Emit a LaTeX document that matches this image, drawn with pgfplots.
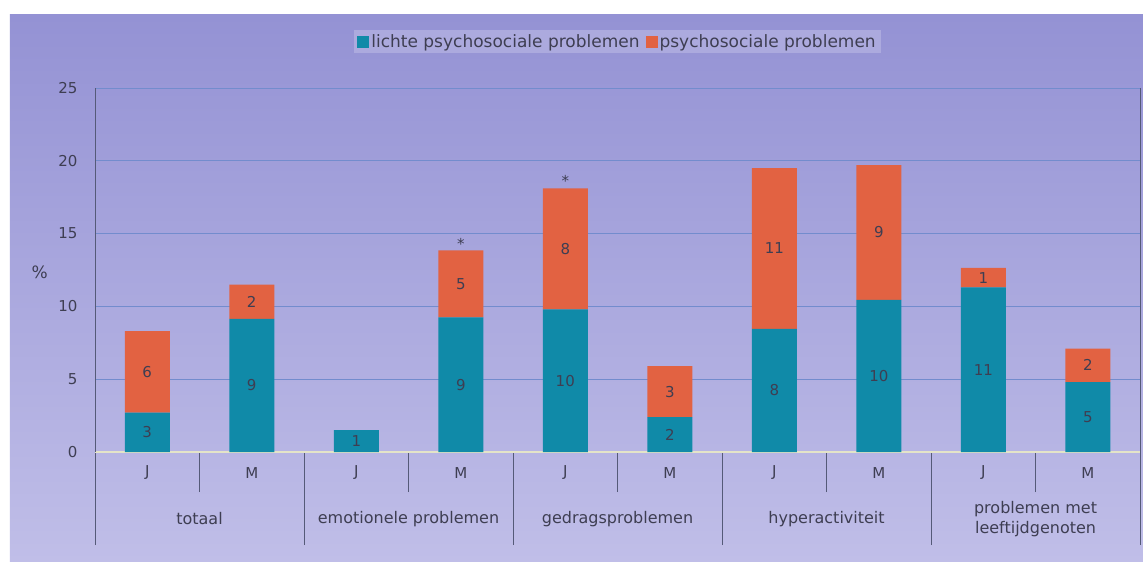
\documentclass[border=0pt]{standalone}
\usepackage{pgfplots}
\usepackage{pgfplotstable}
\pgfplotsset{compat=1.18}
\usepackage{fontspec}
\setmainfont{DejaVu Sans}
\definecolor{bgtop}{RGB}{148,146,212}
\definecolor{bgbot}{RGB}{192,190,232}
\definecolor{barblue}{RGB}{16,138,168}
\definecolor{barred}{RGB}{226,98,66}
\definecolor{txt}{RGB}{62,62,82}
\definecolor{gridc}{RGB}{115,140,205}
\definecolor{divc}{RGB}{85,90,120}
\pgfplotstableread{
x b r
0 2.7 5.6
1 9.15 2.35
2 1.5 0
3 9.25 4.6
4 9.8 8.3
5 2.4 3.5
6 8.45 11.05
7 10.45 9.25
8 11.3 1.35
9 4.8 2.3
}\data
\pgfplotstableread{
x y l
0 1.35 3
1 4.58 9
2 0.75 1
3 4.63 9
4 4.9 10
5 1.2 2
6 4.23 8
7 5.23 10
8 5.65 11
9 2.4 5
0 5.5 6
1 10.33 2
3 11.55 5
4 13.95 8
5 4.15 3
6 13.98 11
7 15.08 9
8 11.98 1
9 5.95 2
3 14.3 *
4 18.6 *
}\labs
\begin{document}
\begin{tikzpicture}
\path[use as bounding box] (-95pt,-110pt) rectangle (1048pt,452pt);
\fill[white] (-95pt,-110pt) rectangle (1048pt,452pt);
\shade[top color=bgtop,bottom color=bgbot] (-85pt,-110pt) rectangle (1048pt,437pt);
\begin{axis}[
 scale only axis, width=1045pt, height=364pt,
 xmin=-0.5,xmax=9.5,ymin=0,ymax=25,
 ybar stacked, bar width=45pt,
 axis x line*=bottom, axis y line*=left,
 x axis line style={draw={rgb,255:red,228;green,228;blue,200},line width=1.6pt},
 y axis line style={draw=divc,line width=0.8pt},
 xtick={-0.5,1.5,...,9.5}, xticklabels={},
 minor xtick={0.5,2.5,...,8.5},
 tick align=outside, major tick length=93pt, minor tick length=40pt,
 xtick style={draw=divc,line width=0.8pt},
 ytick={0,5,...,25}, ytick style={draw=none},
 /pgf/number format/assume math mode=true,
 yticklabel style={font=\fontsize{15}{15}\selectfont, text=txt, xshift=79pt},
 ymajorgrids, y grid style={draw=gridc,line width=0.9pt},
 ylabel={\%}, ylabel style={rotate=-90, at={(axis description cs:-0.053,0.495)}, anchor=center, font=\fontsize{17}{17}\selectfont, text=txt},
 legend style={at={(0.5,1)},anchor=south,yshift=35pt,draw=none,fill={rgb,255:red,172;green,170;blue,222},font=\fontsize{17}{17}\selectfont,text=txt,legend columns=2, /tikz/every even column/.append style={column sep=4pt}},
 legend image code/.code={\fill[#1] (0pt,-6pt) rectangle (12pt,6pt);},
]
\addplot[fill=barblue,draw=none] table[x=x,y=b] {\data};
\addplot[fill=barred,draw=none] table[x=x,y=r] {\data};
\legend{lichte psychosociale problemen, psychosociale problemen}
\end{axis}
\begin{axis}[
 scale only axis, width=1045pt, height=364pt,
 xmin=-0.5,xmax=9.5,ymin=0,ymax=25,
 axis x line*=bottom, axis y line*=right,
 x axis line style={draw=none}, y axis line style={draw=divc, line width=0.8pt},
 ytick=\empty,
 xtick={0,...,9}, xticklabels={J,M,J,M,J,M,J,M,J,M},
 major tick length=0pt, xtick style={draw=none},
 xticklabel style={anchor=center,yshift=-21pt,font=\fontsize{15}{15}\selectfont,text=txt},
 extra x ticks={0.5,2.5,4.5,6.5,8.5},
 extra x tick labels={totaal,emotionele problemen,gedragsproblemen,hyperactiviteit,{problemen met\\leeftijdgenoten}},
 extra x tick style={xticklabel style={yshift=-46pt, align=center, font=\fontsize{16}{20}\selectfont}},
 nodes near coords, point meta=explicit symbolic,
 every node near coord/.append style={anchor=center, font=\fontsize{15}{15}\selectfont, text=txt},
]
\addplot[draw=none, mark=none] table[x=x,y=y,meta=l] {\labs};
\end{axis}
\end{tikzpicture}
\end{document}
